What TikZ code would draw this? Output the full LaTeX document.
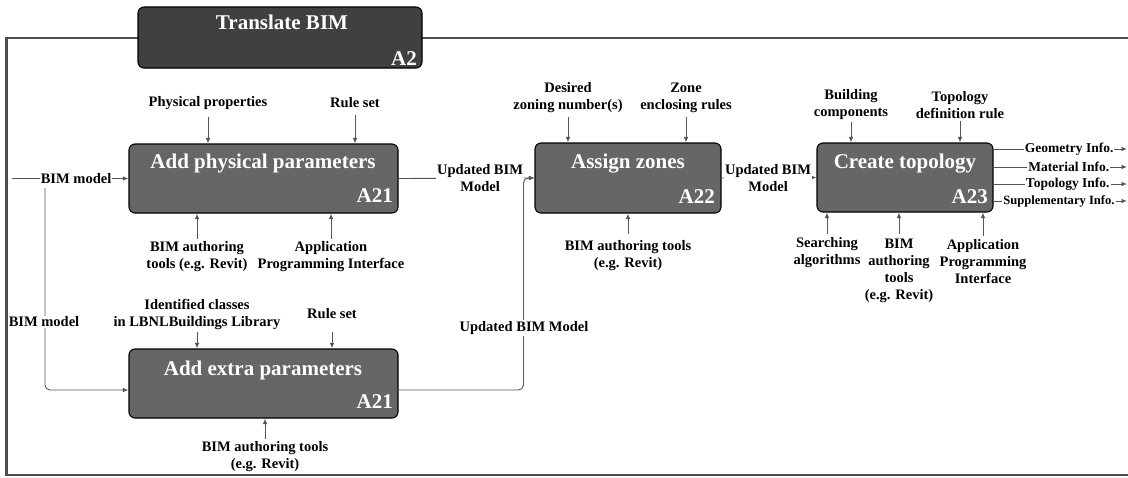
\documentclass[tikz,border=0pt]{standalone}
\usepackage{fontspec}
\setmainfont{Liberation Serif}
\usetikzlibrary{arrows.meta}
\definecolor{boxfill}{HTML}{666666}
\definecolor{topfill}{HTML}{404040}
\definecolor{wirecol}{HTML}{555555}
\definecolor{framecol}{HTML}{4D4D4D}

\begin{document}
\begin{tikzpicture}[x=1pt,y=-1pt,
  procbox/.style={draw=black,line width=1.1pt,fill=boxfill,rounded corners=6pt,inner sep=0pt},
  topbox/.style={procbox,fill=topfill},
  ttl/.style={text=white,font=\bfseries\fontsize{21}{24}\selectfont,inner sep=0pt,anchor=base},
  code/.style={text=white,font=\bfseries\fontsize{21}{24}\selectfont,inner sep=0pt,anchor=base east},
  lbl/.style={font=\bfseries\fontsize{14.5}{17}\selectfont,align=center,inner sep=1pt},
  olbl/.style={font=\bfseries\fontsize{13.5}{15}\selectfont,inner sep=1pt,fill=white},
  wire/.style={draw=wirecol,line width=0.9pt},
  arr/.style={wire,-{Latex[length=5.5pt,width=4.5pt]}},
]
\useasboundingbox (0,0) rectangle (1128,477);

% enclosing frame of the A2 diagram
\draw[draw=framecol,line width=2.2pt] (1140,38) -- (6.5,38) -- (6.5,475) -- (1140,475);

% parent activity
\node[topbox,minimum width=284pt,minimum height=61pt] (a2) at (280,37.5) {};
\node[ttl] (a2t) at (282,29) {Translate BIM};
\node[code] (a2c) at (417,65) {A2};

% activity boxes
\node[procbox,minimum width=269pt,minimum height=69pt] (a21) at (263.5,178.5) {};
\node[ttl] (a21t) at (263,168) {Add physical parameters};
\node[code] (a21c) at (393,202) {A21};

\node[procbox,minimum width=269pt,minimum height=69pt] (a21b) at (263.5,383.5) {};
\node[ttl] (a21bt) at (263,375) {Add extra parameters};
\node[code] (a21bc) at (393,408) {A21};

\node[procbox,minimum width=186pt,minimum height=70pt] (a22) at (628,178) {};
\node[ttl] (a22t) at (628,168) {Assign zones};
\node[code] (a22c) at (715,203) {A22};

\node[procbox,minimum width=176pt,minimum height=69pt] (a23) at (905,177.5) {};
\node[ttl] (a23t) at (905,168) {Create topology};
\node[code] (a23c) at (988,203) {A23};

% labels around A21 (physical parameters)
\node[lbl] (pp) at (208,103) {Physical properties};
\node[lbl] (rs1) at (355,103) {Rule set};
\node[lbl] (bat1) at (197,256.5) {BIM authoring\\tools (e.g. Revit)};
\node[lbl] (api1) at (331,256.5) {Application\\Programming Interface};

\draw[arr] (pp.south) ++(0,6) -- (pp.south |- a21.north);
\draw[arr] (rs1.south) ++(0,6) -- (rs1.south |- a21.north);
\draw[arr] (bat1.north) ++(0,-1) -- (bat1.north |- a21.south);
\draw[arr] (api1.north) ++(0,-1) -- (api1.north |- a21.south);

% model input
\coordinate (in1) at (12,178.5);
\draw[arr] (in1) -- node[lbl,fill=white,pos=0.55] (bim1) {BIM model} (a21.west);
\coordinate (split) at (45,188);
\draw[arr,rounded corners=5pt] (split) |- ([yshift=-6.5pt]a21b.west);
\node[lbl,fill=white] (bim2) at (44,322) {BIM model};

% labels around A21 (extra parameters)
\node[lbl] (idc) at (197,314.5) {Identified classes\\in LBNLBuildings Library};
\node[lbl] (rs2) at (332,314) {Rule set};
\node[lbl] (bat2) at (265,456.5) {BIM authoring tools\\(e.g. Revit)};

\draw[arr] (idc.south) ++(0,1) -- (idc.south |- a21b.north);
\draw[arr] (rs2.south |- idc.south) ++(0,1) -- (rs2.south |- a21b.north);
\draw[arr] (bat2.north) ++(0,-1) -- (bat2.north |- a21b.south);

% flows into A22
\draw[arr] (a21.east) -- node[lbl,fill=white,pos=0.6] (upd1) {Updated BIM\\Model} (a22.west);
\draw[arr,rounded corners=5pt] ([yshift=-6.5pt]a21b.east) -| ([xshift=-11pt]a22.west) -- (a22.west);
\node[lbl,fill=white] (upd2) at (524,328) {Updated BIM Model};

% labels around A22
\node[lbl] (dzn) at (568,98) {Desired\\zoning number(s)};
\node[lbl] (zer) at (686,98) {Zone\\enclosing rules};
\node[lbl] (bat3) at (628,256) {BIM authoring tools\\(e.g. Revit)};

\draw[arr] (dzn.south) ++(0,3) -- (dzn.south |- a22.north);
\draw[arr] (zer.south) ++(0,3) -- (zer.south |- a22.north);
\draw[arr] (bat3.north) ++(0,-6) -- (bat3.north |- a22.south);

% flow into A23
\draw[arr] (a22.east) -- node[lbl,fill=white,pos=0.49] (upd3) {Updated BIM\\Model} (a23.west);

% labels around A23
\node[lbl] (bcp) at (851,105) {Building\\components};
\node[lbl] (tdr) at (960,105) {Topology\\definition rule};
\node[lbl] (sal) at (827,253) {Searching\\algorithms};
\node[lbl] (bat4) at (899,270.5) {BIM\\authoring\\tools\\(e.g. Revit)};
\node[lbl] (api2) at (983,262) {Application\\Programming\\Interface};

\draw[arr] (bcp.south) ++(0,1) -- (bcp.south |- a23.north);
\draw[arr] (tdr.south) ++(0,1) -- (tdr.south |- a23.north);
\draw[arr] (sal.north) ++(0,-3) -- (sal.north |- a23.south);
\draw[arr] (bat4.north) ++(0,-3) -- (bat4.north |- a23.south);
\draw[arr] (api2.north) ++(0,-3) -- (api2.north |- a23.south);

% outputs of A23
\coordinate (o1) at (1127,149);
\coordinate (o2) at (1127,167);
\coordinate (o3) at (1127,184);
\coordinate (o4) at (1127,201);
\draw[arr] (a23.east |- o1) -- node[olbl,pos=0.567] (geo) {Geometry Info.} (o1);
\draw[arr] (a23.east |- o2) -- node[olbl,pos=0.564] (mat) {Material Info.} (o2);
\draw[arr] (a23.east |- o3) -- node[olbl,pos=0.556] (top) {Topology Info.} (o3);
\draw[arr] (a23.east |- o4) -- node[olbl,pos=0.49,font=\bfseries\fontsize{12.6}{15}\selectfont] (sup) {Supplementary Info.} (o4);
\end{tikzpicture}
\end{document}
